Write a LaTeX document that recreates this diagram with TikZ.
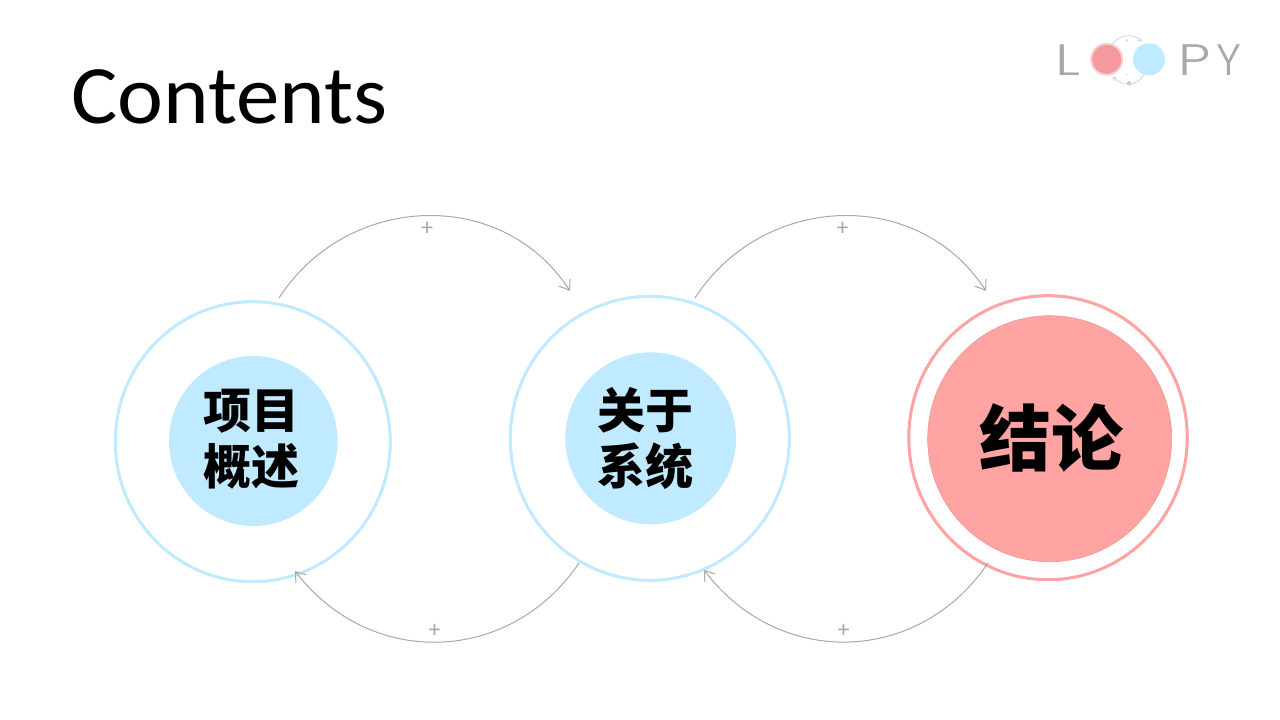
\documentclass[tikz,border=0pt]{standalone}
\usepackage{fontspec}
\usetikzlibrary{arrows.meta,shapes.geometric}
\setmainfont{Carlito}
\newfontfamily\cjkb{Noto Sans CJK SC}
\newfontfamily\logof{Poppins Light}
\definecolor{lblue}{HTML}{C0EAFF}
\definecolor{lpink}{HTML}{FFA3A3}
\definecolor{ledge}{HTML}{EE9696}
\definecolor{lgray}{HTML}{A8A8A8}
\definecolor{logored}{HTML}{F49A9E}
\definecolor{logoring}{HTML}{FAD0D0}
\definecolor{logomini}{HTML}{C9CDE6}
\tikzset{
  x=1pt,y=-1pt,
  ring/.style={ellipse,draw=#1,line width=3pt,fill=white,inner sep=0pt},
  core/.style={ellipse,fill=#1,inner sep=0pt},
  cjklabel/.style={font=\cjkb\bfseries\fontsize{48}{56}\selectfont,align=center,text=black,inner sep=0pt},
  link/.style={draw=lgray,line width=1pt,-{Straight Barb[length=9pt,width=13pt,line width=1pt]}},
  sign/.style={text=lgray,font=\fontsize{24}{24}\selectfont,inner sep=0pt},
  logotext/.style={text=lgray,font=\logof\fontsize{44}{44}\selectfont,inner sep=0pt,anchor=base},
  mini/.style={draw=logomini,line width=0.7pt,-{Straight Barb[length=3pt,width=4pt,line width=0.7pt]}}
}
\begin{document}
\begin{tikzpicture}
\useasboundingbox (0,0) rectangle (1280,720);
\fill[white] (0,0) rectangle (1280,720);
% title
\node[anchor=base west,inner sep=0pt,xscale=1.047,transform shape,font=\fontsize{83}{83}\selectfont] (title) at (71,123) {Contents};
% logo
\node[logotext,xscale=1.35,transform shape] (logoL) at (1067.5,75) {L};
\node[logotext,xscale=1.3,transform shape] (logoP) at (1194.5,75) {P};
\node[logotext] (logoY) at (1229,75) {Y};
\node[core=logoring,minimum size=33pt] (logoRing) at (1106.7,59.3) {};
\node[core=logored,minimum size=29pt] (logoRed) at (1106.7,59.3) {};
\node[core=lblue,minimum size=32pt] (logoBlue) at (1149,59.3) {};
\coordinate (la) at (1111.7,45);
\coordinate (lb) at (1141.7,41.7);
\coordinate (lc) at (1144,75);
\coordinate (ld) at (1113,76.7);
\draw[mini] (la) .. controls (1119,34) and (1134,33) .. (lb);
\draw[mini] (lc) .. controls (1136,87) and (1122,87) .. (ld);
\node[text=logomini,font=\fontsize{8}{8}\selectfont,inner sep=0pt] (lplus) at (1127.3,41) {+};
\node[text=logomini,font=\fontsize{8}{8}\selectfont,inner sep=0pt] (lminus) at (1127.3,76.5) {-};
\node[core=logomini,minimum size=4.5pt] (ldot) at (1129,83.3) {};
% circles
\node[ring=lblue,minimum width=275pt,minimum height=280pt] (o1) at (252.8,441.7) {};
\node[core=lblue,minimum width=168.7pt,minimum height=170pt] (c1) at (253.3,441) {};
\node[cjklabel] (t1) at (251.5,439) {项目\\概述};
\node[ring=lblue,minimum width=279pt,minimum height=284pt] (o2) at (649.8,438.3) {};
\node[core=lblue,minimum width=170.7pt,minimum height=172pt] (c2) at (650.7,438.3) {};
\node[cjklabel] (t2) at (645.5,438.5) {关于\\系统};
\node[ring=lpink,minimum width=278.5pt,minimum height=284pt] (o3) at (1048,437.7) {};
\node[core=lpink,draw=ledge,line width=0.6pt,minimum width=244pt,minimum height=246pt] (c3) at (1049.7,438.7) {};
\node[cjklabel,font=\cjkb\bfseries\fontsize{72}{72}\selectfont] (t3) at (1051,438) {结论};
% connector ends
\coordinate (s1) at (279,298);
\coordinate (e1) at (570,291);
\coordinate (s2) at (695,298);
\coordinate (e2) at (986,291);
\coordinate (s3) at (579,563);
\coordinate (e3) at (295,571);
\coordinate (s4) at (988,563);
\coordinate (e4) at (704,570);
\draw[link] (s1) .. controls (347,193) and (502,186) .. (e1);
\draw[link] (s2) .. controls (763,193) and (918,186) .. (e2);
\draw[link] (s3) .. controls (511,664) and (371,670) .. (e3);
\draw[link] (s4) .. controls (920,664) and (780,670) .. (e4);
\node[sign] (p1) at (427,229) {+};
\node[sign] (p2) at (842.5,229) {+};
\node[sign] (p3) at (434.7,630.5) {+};
\node[sign] (p4) at (843.5,630.5) {+};
\end{tikzpicture}
\end{document}
